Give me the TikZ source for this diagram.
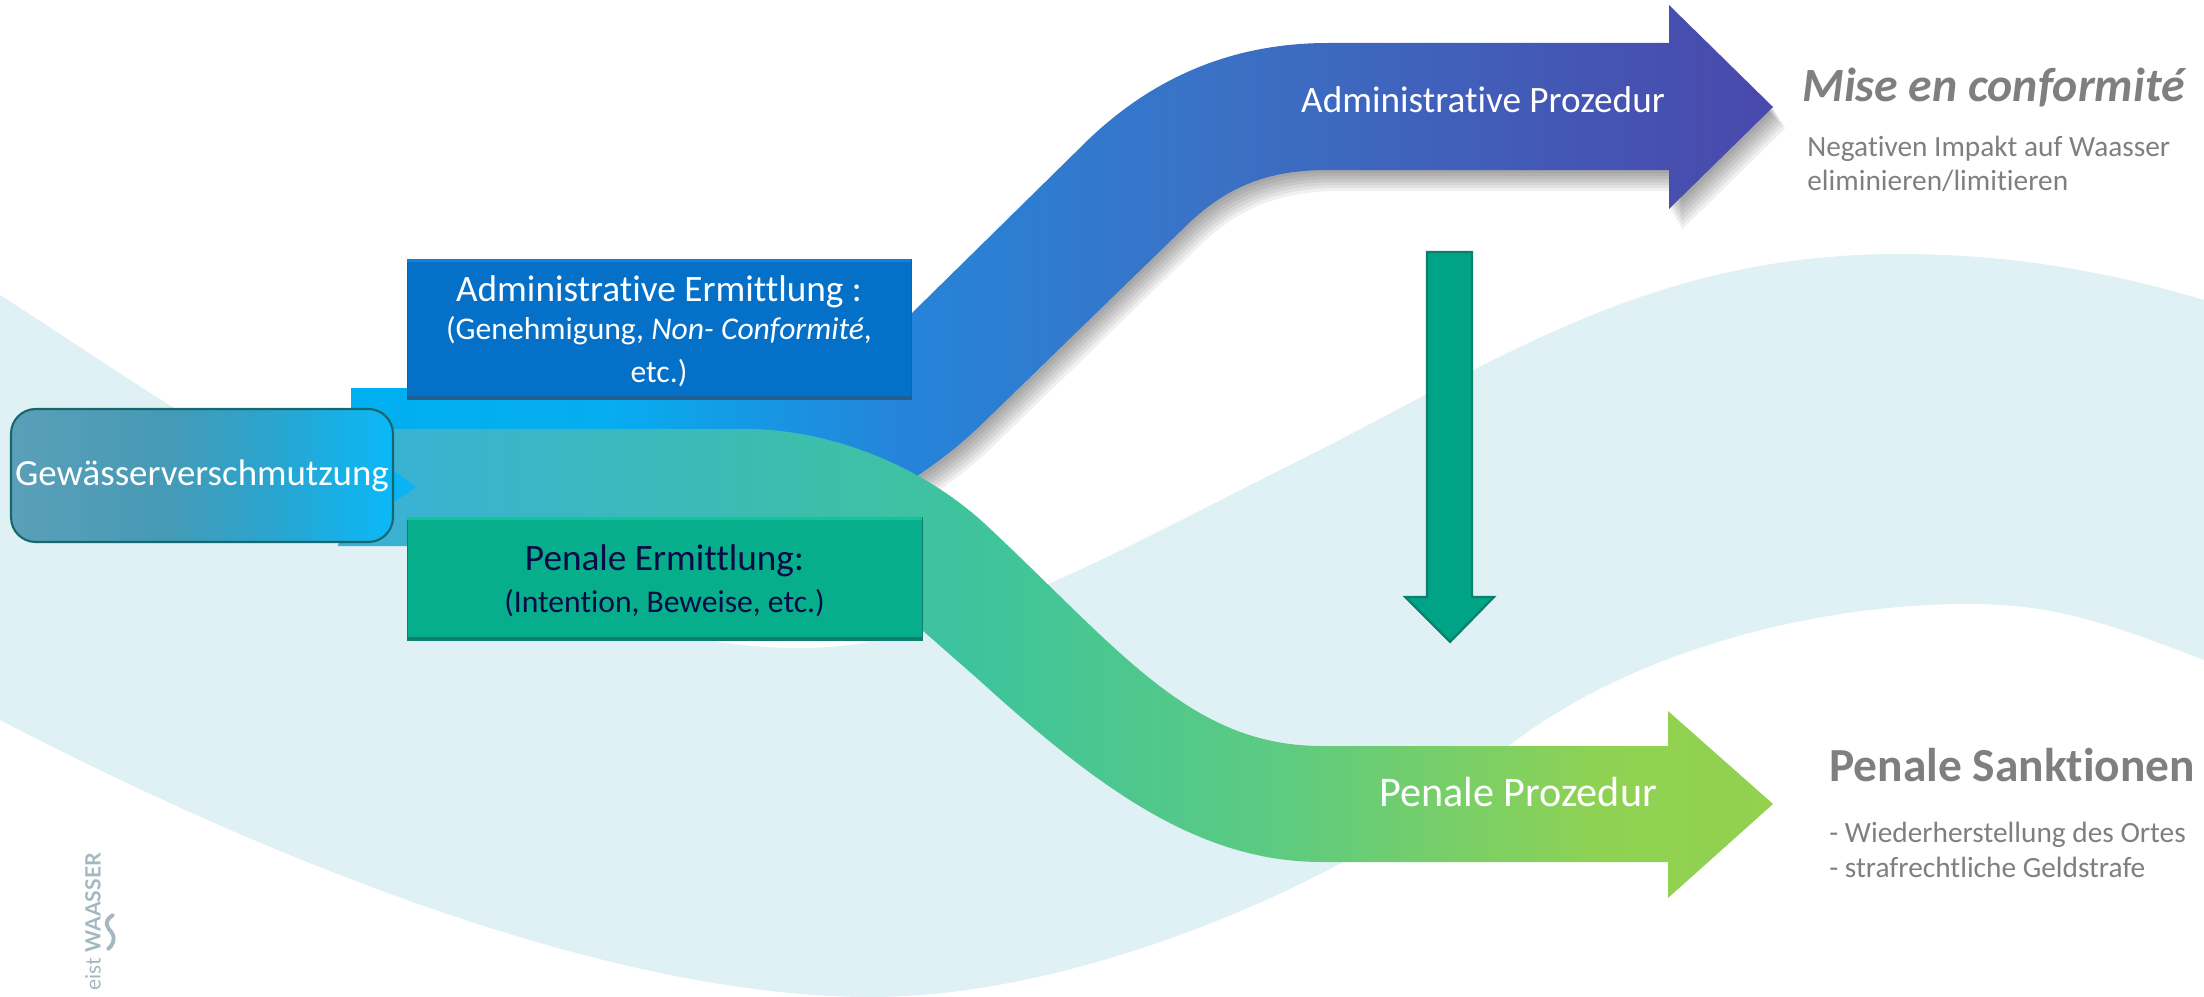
\documentclass[tikz,border=0pt]{standalone}
\usepackage{fontspec}
\setmainfont[Ligatures=NoCommon]{Carlito}
\newfontfamily\logoFont{Lato}
\usepackage{tikz}
\usetikzlibrary{arrows.meta, positioning, calc}
\definecolor{waveBlue}{HTML}{DFF1F5}
\definecolor{textGrey}{HTML}{7F7F7F}
\definecolor{logoGrey}{HTML}{A3B8BE}
\definecolor{adminFill}{HTML}{0570C8}
\definecolor{adminTop}{HTML}{0F80DC}
\definecolor{adminLow}{HTML}{1F5F94}
\definecolor{penaleFill}{HTML}{06AE8C}
\definecolor{penaleTop}{HTML}{12C49C}
\definecolor{penaleLow}{HTML}{0E7F6E}
\definecolor{penaleText}{HTML}{0A0A45}
\definecolor{pollutionEdge}{HTML}{17686E}
\definecolor{tipBlue}{HTML}{0AB4F4}
\definecolor{vertFill}{HTML}{00A385}
\definecolor{vertEdge}{HTML}{0A7F6B}
% Gradient stops
\definecolor{adA}{HTML}{00B0F0}
\definecolor{adB}{HTML}{06ADEF}
\definecolor{adC}{HTML}{2485DA}
\definecolor{adD}{HTML}{3A72C6}
\definecolor{adE}{HTML}{4650B0}
\definecolor{adF}{HTML}{4A48AC}
\definecolor{peA}{HTML}{3AB0D8}
\definecolor{peB}{HTML}{3BBDB0}
\definecolor{peC}{HTML}{40C49A}
\definecolor{peD}{HTML}{5ECB80}
\definecolor{peE}{HTML}{8FD253}
\definecolor{peF}{HTML}{93D14F}
\definecolor{poA}{HTML}{5B9FB8}
\definecolor{poB}{HTML}{469AB5}
\definecolor{poC}{HTML}{28A5D0}
\definecolor{poD}{HTML}{0AB8F8}
\pgfdeclarehorizontalshading{adminShade}{100bp}{
    color(0bp)=(adA); color(25bp)=(adA); color(34bp)=(adB); color(44bp)=(adC);
    color(55bp)=(adD); color(71bp)=(adE); color(75bp)=(adF); color(100bp)=(adF)}
\pgfdeclarehorizontalshading{penaleShade}{100bp}{
    color(0bp)=(peA); color(25bp)=(peA); color(40bp)=(peB); color(48bp)=(peC);
    color(58bp)=(peD); color(69bp)=(peE); color(75bp)=(peF); color(100bp)=(peF)}
\pgfdeclarehorizontalshading{pollutionShade}{100bp}{
    color(0bp)=(poA); color(25bp)=(poA); color(45bp)=(poB); color(60bp)=(poC);
    color(75bp)=(poD); color(100bp)=(poD)}
\newcommand{\AdminPath}{
    (351,388) -- (835,388) -- (912,313) -- (1090,138)
    .. controls (1160,72) and (1240,43) .. (1328,43)
    -- (1669,43) -- (1669,5) -- (1773,107) -- (1669,209) -- (1669,170) -- (1328,170)
    .. controls (1270,170) and (1230,185) .. (1190,222)
    -- (984,422) .. controls (950,455) and (915,480) .. (860,510)
    -- (351,510) -- cycle
}
\newcommand{\PenalePath}{
    (338,546) -- (360,429) -- (745,429)
    .. controls (830,429) and (920,465) .. (984,523)
    .. controls (1120,650) and (1190,746) .. (1322,746)
    -- (1668,746) -- (1668,711) -- (1773,804) -- (1668,898) -- (1668,862) -- (1322,862)
    .. controls (1200,862) and (1100,790) .. (979,680)
    -- (922,630) -- (800,546) -- cycle
}
\newcommand{\subFont}{\fontsize{18}{23.4}\selectfont}
\tikzset{
    % Boxes
    pollutionBox/.style={
        rectangle, rounded corners=14pt, draw=pollutionEdge, line width=1.2pt,
        shade, shading=pollutionShade, inner sep=0pt, text=white, font=\fontsize{21}{25}\selectfont
    },
    adminBox/.style={rectangle, draw=adminLow, fill=adminFill, inner sep=0pt},
    penaleBox/.style={rectangle, draw=penaleLow, fill=penaleFill, inner sep=0pt},
    boxText/.style={inner sep=0pt, align=center, font=\fontsize{21.2}{23.4}\selectfont},
    vertArrow/.style={fill=vertFill, draw=vertEdge, line width=1.2pt},
    % Text
    arrowLabel/.style={text=white, inner sep=0pt},
    headLabel/.style={text=textGrey, inner sep=0pt, anchor=west},
    noteLabel/.style={text=textGrey, inner sep=0pt, anchor=west, align=left, font=\fontsize{16.7}{19.6}\selectfont}
}
\begin{document}
\begin{tikzpicture}[x=0.02cm, y=-0.02cm]
    \useasboundingbox (0,0) rectangle (2204,997);
    % Background wave
    \fill[waveBlue] (0,295) .. controls (150,390) and (500,648) .. (800,648)
        .. controls (950,648) and (1100,560) .. (1300,460)
        .. controls (1500,360) and (1650,254) .. (1900,254)
        .. controls (2020,254) and (2120,275) .. (2204,300)
        -- (2204,660) .. controls (2100,620) and (2050,604) .. (1968,604)
        .. controls (1800,604) and (1600,660) .. (1480,770)
        .. controls (1380,862) and (1100,997) .. (871,997)
        .. controls (600,997) and (250,850) .. (0,720) -- cycle;

    % Shadow of the upper arrow
    \foreach \d in {3,6,...,21}
        \fill[black, opacity=0.06, shift={(0.6*\d,\d)}] \AdminPath;

    % Two big arrows
    \shade[shading=adminShade] \AdminPath;
    \shade[shading=penaleShade] \PenalePath;
    \fill[tipBlue] (393,470) -- (416,487) -- (393,503) -- cycle;

    % Boxes
    \node[pollutionBox, minimum width=7.64cm, minimum height=2.66cm] (pollution) at (202,475.5) {Gewässerverschmutzung};
    \node[adminBox, minimum width=10.08cm, minimum height=2.8cm] (adminInquiry) at (659,329) {};
    \node[penaleBox, minimum width=10.3cm, minimum height=2.46cm] (penaleInquiry) at (664.5,578.5) {};
    \draw[adminTop, line width=1.6pt] ([yshift=-1pt]adminInquiry.north west) -- ([yshift=-1pt]adminInquiry.north east);
    \draw[adminLow, line width=1.6pt] ([yshift=1pt]adminInquiry.south west) -- ([yshift=1pt]adminInquiry.south east);
    \draw[penaleTop, line width=1.6pt] ([yshift=-1pt]penaleInquiry.north west) -- ([yshift=-1pt]penaleInquiry.north east);
    \draw[penaleLow, line width=1.6pt] ([yshift=1pt]penaleInquiry.south west) -- ([yshift=1pt]penaleInquiry.south east);
    \node[boxText, text=white] (adminText) at ([yshift=-1.2pt]adminInquiry.center)
        {Administrative Ermittlung :\\[-1.5pt]
        {\subFont (Genehmigung, \textit{Non- Conformité},}\\[1pt]
        {\subFont etc.)}};
    \node[boxText, text=penaleText] (penaleText) at ([yshift=-1.3pt]penaleInquiry.center)
        {Penale Ermittlung:\\
        {\subFont (Intention, Beweise, etc.)}};

    % Arrow between the two procedures
    \draw[vertArrow] (1427,252) -- (1472,252) -- (1472,597) -- (1494,597) -- (1450,642) -- (1405,597) -- (1427,597) -- cycle;

    % Labels on the arrows
    \node[arrowLabel, font=\fontsize{21.2}{25}\selectfont] (adminProc) at (1483,100) {Administrative Prozedur};
    \node[arrowLabel, font=\fontsize{24}{28}\selectfont] (penaleProc) at (1518,792) {Penale Prozedur};

    % Right column
    \node[headLabel, font=\fontsize{27.2}{30}\selectfont\bfseries\itshape] (conformity) at (1802,88) {Mise en conformité};
    \node[noteLabel] (conformityNote) at (1807,164) {Negativen Impakt auf Waasser\\eliminieren/limitieren};
    \node[headLabel, font=\fontsize{27}{30}\selectfont\bfseries] (sanctions) at (1829,765) {Penale Sanktionen};
    \node[noteLabel] (sanctionsNote) at (1829,850) {- Wiederherstellung des Ortes\\- strafrechtliche Geldstrafe};

    % Logo
    \node[rotate=90, text=logoGrey, inner sep=0pt, font=\logoFont\fontsize{12}{12}\selectfont] (logo) at (93,922) {eist \textbf{WAASSER}};
    \draw[logoGrey, line width=2.2pt, line cap=round] (113,915) .. controls (102,922) and (108,928) .. (112,933) .. controls (116,940) and (112,946) .. (108,949);
\end{tikzpicture}
\end{document}
